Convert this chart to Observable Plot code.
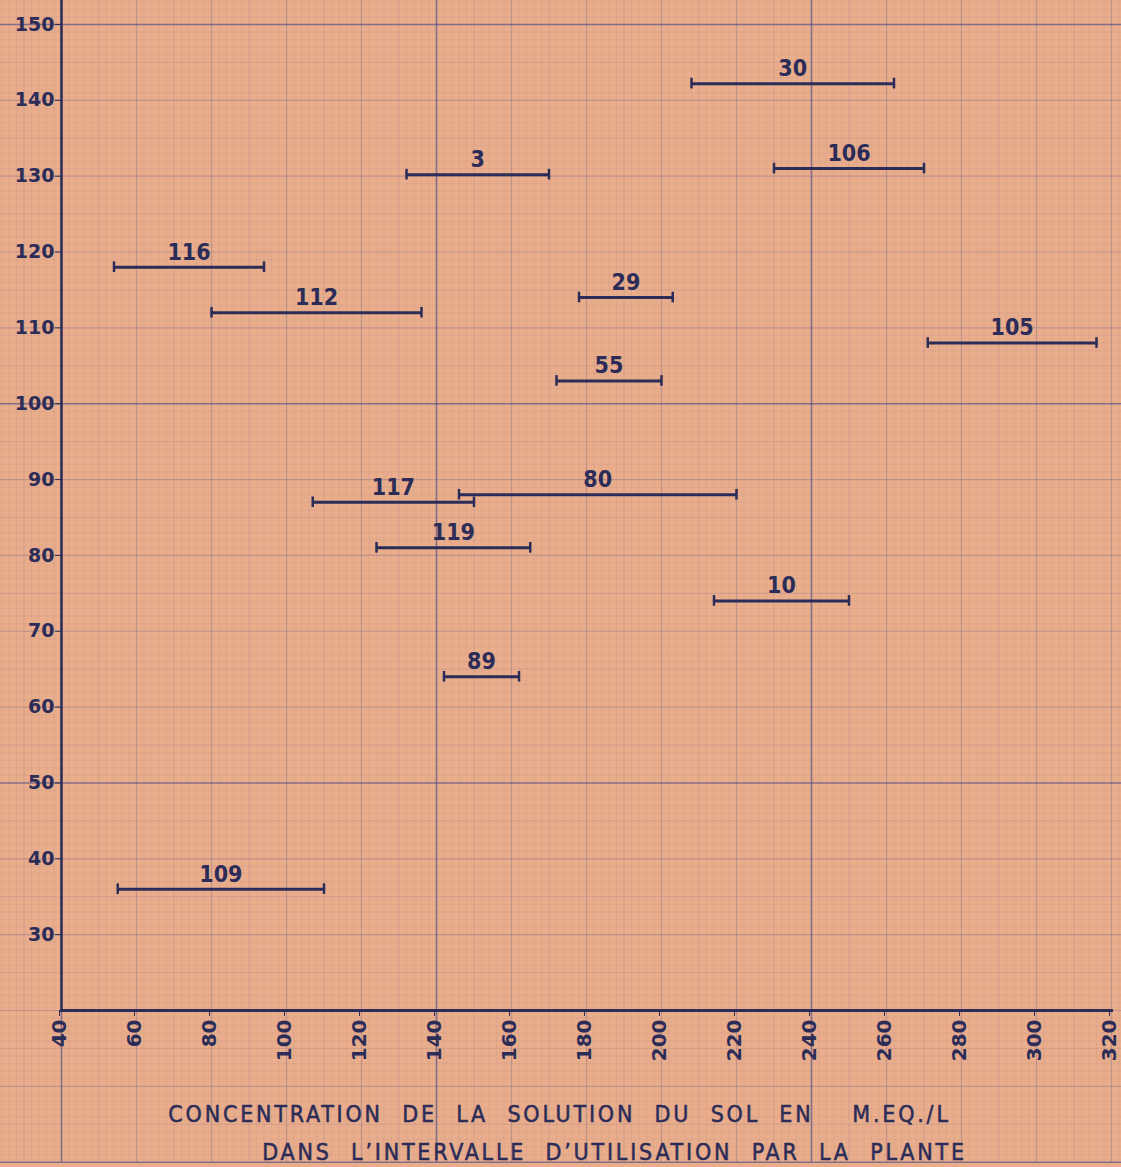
<!DOCTYPE html>
<html>
<head>
<meta charset="utf-8">
<script src="https://cdn.jsdelivr.net/npm/d3@7"></script>
<script src="https://cdn.jsdelivr.net/npm/@observablehq/plot@0.6"></script>
<style>
  html, body { margin: 0; padding: 0; background: #e9ad8c; }
</style>
</head>
<body>
<div id="chart"></div>
<script>
// ---- data ----
const ids = ["30", "106", "3", "116", "112", "29", "105", "55", "117", "80", "119", "10", "89", "109"];
const x1s = [208, 230, 132, 54, 80, 178, 271, 172, 107, 146, 124, 214, 142, 55];
const x2s = [262, 270, 170, 94, 136, 203, 316, 200, 150, 220, 165, 250, 162, 110];
const ys  = [142.2, 131, 130.2, 118, 112, 114, 108, 103, 87, 88, 81, 74, 64, 36];
const xTicks = [40, 60, 80, 100, 120, 140, 160, 180, 200, 220, 240, 260, 280, 300, 320];
const yTicks = [30, 40, 50, 60, 70, 80, 90, 100, 110, 120, 130, 140, 150];
const xTitle1 = "CONCENTRATION DE LA SOLUTION DU SOL EN\u00a0\u00a0M.EQ./L";
const xTitle2 = "DANS L\u2019INTERVALLE D\u2019UTILISATION PAR LA PLANTE";

const data = ids.map((id, i) => ({id, x1: x1s[i], x2: x2s[i], y: ys[i]}));

// graph-paper grid (1 mm = 2 x-units, 1 y-unit)
const ink = "#2b2c58";
const gridC = "#4e4f86";
const xAll = d3.range(24, 324, 2);
const yAll = d3.range(0, 154, 1);
const isMul = (v, s, o) => Math.abs(((v - o) % s + s) % s) < 1e-9;
const xmm = xAll.filter(v => !isMul(v, 10, 40));
const xhalf = xAll.filter(v => isMul(v, 10, 40) && !isMul(v, 20, 40));
const xcm = xAll.filter(v => isMul(v, 20, 40) && !isMul(v, 100, 40));
const xmaj = xAll.filter(v => isMul(v, 100, 40));
const ymm = yAll.filter(v => v % 5 !== 0);
const yhalf = yAll.filter(v => v % 5 === 0 && v % 10 !== 0);
const ycm = yAll.filter(v => v % 10 === 0 && v % 50 !== 0);
const ymaj = yAll.filter(v => v % 50 === 0);
const Y0 = 0, Y1 = 153.4, X0 = 23.5, X1 = 324;

const chart = Plot.plot({
  width: 1121,
  height: 1167,
  marginLeft: 61,
  marginRight: 10,
  marginTop: 0,
  marginBottom: 157,
  x: {domain: [40, 320]},
  y: {domain: [20, 153.16]},
  style: {background: "#e9ad8c", color: ink, fontFamily: "DejaVu Sans, sans-serif"},
  marks: [
    Plot.ruleX(xmm, {y1: Y0, y2: Y1, stroke: gridC, strokeOpacity: 0.07, strokeWidth: 1}),
    Plot.ruleY(ymm, {x1: X0, x2: X1, stroke: gridC, strokeOpacity: 0.07, strokeWidth: 1}),
    Plot.ruleX(xhalf, {y1: Y0, y2: Y1, stroke: gridC, strokeOpacity: 0.15, strokeWidth: 1}),
    Plot.ruleY(yhalf, {x1: X0, x2: X1, stroke: gridC, strokeOpacity: 0.15, strokeWidth: 1}),
    Plot.ruleX(xcm, {y1: Y0, y2: Y1, stroke: gridC, strokeOpacity: 0.28, strokeWidth: 1.2}),
    Plot.ruleY(ycm, {x1: X0, x2: X1, stroke: gridC, strokeOpacity: 0.28, strokeWidth: 1.2}),
    Plot.ruleX(xmaj, {y1: Y0, y2: Y1, stroke: gridC, strokeOpacity: 0.65, strokeWidth: 1.6}),
    Plot.ruleY(ymaj, {x1: X0, x2: X1, stroke: gridC, strokeOpacity: 0.65, strokeWidth: 1.6}),
    Plot.frame({anchor: "left", stroke: ink, strokeWidth: 2.5}),
    Plot.frame({anchor: "bottom", stroke: ink, strokeWidth: 3}),
    Plot.axisY({ticks: yTicks, tickSize: 6, tickPadding: 1, fontSize: 19, fontWeight: "bold", tickFormat: d => String(d), label: null}),
    Plot.axisX({ticks: xTicks, tickSize: 6, tickPadding: 3, tickRotate: -90, fontSize: 20, fontWeight: "bold", dx: -2, tickFormat: d => String(d), label: null}),
    // bars
    Plot.ruleY(data, {y: "y", x1: "x1", x2: "x2", stroke: ink, strokeWidth: 3}),
    Plot.ruleX(data, {x: "x1", y1: d => d.y - 0.7, y2: d => d.y + 0.7, stroke: ink, strokeWidth: 2.5}),
    Plot.ruleX(data, {x: "x2", y1: d => d.y - 0.7, y2: d => d.y + 0.7, stroke: ink, strokeWidth: 2.5}),
    Plot.text(data, {x: d => (d.x1 + d.x2) / 2, y: "y", text: "id", dy: -15, fontSize: 23,
      fontFamily: "Liberation Sans Narrow, DejaVu Sans Condensed, sans-serif", fontWeight: "bold", fill: ink}),
    // axis title
    Plot.text([xTitle1], {frameAnchor: "bottom", dx: -27, dy: 111, text: d => d, fontSize: 23,
      fontFamily: "DejaVu Sans Condensed, sans-serif", fill: ink, stroke: ink, strokeWidth: 0.5}),
    Plot.text([xTitle2], {frameAnchor: "bottom", dx: 28, dy: 149, text: d => d, fontSize: 23,
      fontFamily: "DejaVu Sans Condensed, sans-serif", fill: ink, stroke: ink, strokeWidth: 0.5})
  ]
});
d3.select(chart).selectAll("text")
  .filter(function() { const t = this.textContent; return t === xTitle1 || t === xTitle2; })
  .style("letter-spacing", "2.8px")
  .style("word-spacing", "10px");
document.getElementById("chart").appendChild(chart);
</script>
</body>
</html>
